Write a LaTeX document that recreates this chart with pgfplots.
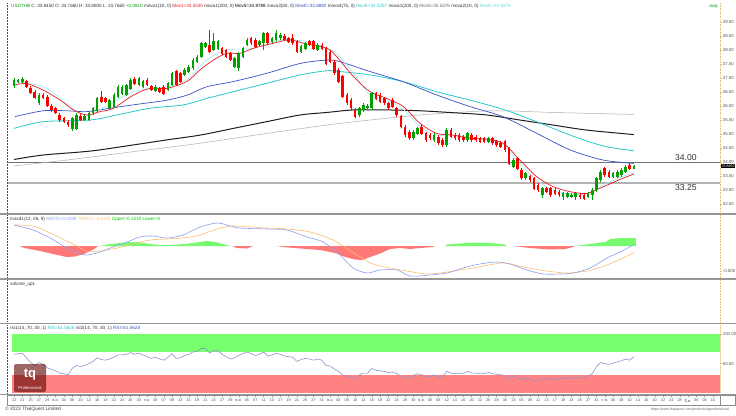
\documentclass[border=0pt]{standalone}
\usepackage{fontspec}
\setmainfont{Liberation Sans}
\newfontfamily\thai[Script=Thai]{Loma}
\usepackage{pgfplots}
\usepackage{pgfplotstable}
\pgfplotsset{compat=1.18}

\definecolor{cgreen}{RGB}{0,160,0}
\definecolor{cred}{RGB}{255,0,0}
\definecolor{mablue}{RGB}{60,80,200}
\definecolor{mateal}{RGB}{40,200,200}
\definecolor{macyan}{RGB}{150,235,250}
\definecolor{mared}{RGB}{230,30,30}
\definecolor{madark}{RGB}{30,30,30}
\definecolor{malight}{RGB}{175,175,175}
\definecolor{macdblue}{RGB}{140,160,240}
\definecolor{macdorange}{RGB}{255,190,110}
\definecolor{histg}{RGB}{120,250,110}
\definecolor{histr}{RGB}{255,120,120}
\definecolor{rsig}{RGB}{120,255,110}
\definecolor{rsir}{RGB}{255,130,130}
\definecolor{rsiline}{RGB}{140,150,200}
\definecolor{axyellow}{RGB}{225,195,120}
\definecolor{sepgray}{RGB}{150,150,150}
\definecolor{lblgray}{RGB}{90,90,90}

\newcommand{\fs}[1]{\fontsize{#1}{#1}\selectfont}

\pgfplotstableread{
i O H L C
0 36.71 36.99 36.66 36.93
1 36.86 36.98 36.82 36.93
2 36.87 37.02 36.83 36.95
3 36.87 36.92 36.64 36.69
4 36.63 36.70 36.42 36.48
5 36.51 36.58 36.24 36.31
6 36.10 36.45 36.05 36.39
7 36.39 36.46 36.26 36.31
8 36.33 36.38 35.95 36.00
9 36.00 36.06 35.80 35.86
10 35.92 35.98 35.70 35.76
11 35.68 35.74 35.44 35.50
12 35.56 35.62 35.38 35.44
13 35.44 35.50 35.26 35.32
14 35.17 35.62 35.12 35.56
15 35.20 35.74 35.16 35.68
16 35.64 35.70 35.46 35.52
17 35.50 35.68 35.45 35.62
18 35.50 35.80 35.45 35.74
19 35.74 35.98 35.68 35.92
20 35.83 36.33 35.78 36.27
21 36.30 36.52 36.10 36.15
22 36.27 36.32 36.10 36.15
23 35.95 36.26 35.90 36.21
24 35.98 36.45 35.93 36.39
25 36.33 36.74 36.28 36.69
26 36.45 36.74 36.40 36.69
27 36.39 36.80 36.34 36.75
28 36.63 37.00 36.58 36.93
29 36.95 37.02 36.76 36.81
30 36.75 37.05 36.70 36.99
31 36.69 36.92 36.64 36.87
32 36.93 36.99 36.70 36.75
33 36.71 36.76 36.52 36.57
34 36.55 36.74 36.50 36.69
35 36.63 36.68 36.46 36.51
36 36.69 36.74 36.38 36.43
37 36.57 36.86 36.52 36.81
38 36.75 37.23 36.70 37.17
39 37.23 37.30 36.70 36.75
40 37.17 37.22 36.82 36.87
41 37.11 37.34 37.06 37.29
42 37.23 37.46 37.18 37.40
43 37.35 37.70 37.30 37.64
44 37.58 37.82 37.53 37.76
45 37.76 38.30 37.71 38.24
46 38.12 38.30 38.07 38.24
47 38.18 38.71 37.88 37.94
48 38.00 38.60 37.95 38.30
49 38.06 38.36 38.01 38.30
50 38.06 38.12 37.83 37.88
51 38.00 38.05 37.71 37.76
52 37.88 37.93 37.59 37.64
53 37.40 37.76 37.35 37.70
54 37.35 37.94 37.25 37.88
55 37.76 38.12 37.71 38.06
56 38.18 38.42 38.13 38.36
57 38.42 38.48 38.19 38.24
58 38.36 38.42 38.07 38.12
59 38.18 38.36 38.13 38.30
60 38.24 38.66 38.00 38.60
61 38.60 38.66 38.19 38.24
62 38.30 38.48 38.25 38.42
63 38.36 38.72 38.31 38.60
64 38.42 38.62 38.37 38.54
65 38.48 38.56 38.31 38.36
66 38.42 38.48 38.25 38.30
67 38.42 38.58 38.19 38.24
68 38.30 38.36 37.89 37.94
69 37.94 38.18 37.89 38.12
70 38.06 38.30 38.01 38.24
71 38.30 38.36 38.13 38.18
72 38.30 38.36 38.01 38.06
73 38.00 38.24 37.95 38.18
74 38.18 38.24 38.01 38.06
75 38.06 38.12 37.46 37.52
76 37.94 38.00 37.53 37.58
77 37.58 37.64 37.11 37.17
78 37.29 37.35 36.81 36.87
79 37.05 37.11 36.27 36.33
80 36.39 36.45 36.04 36.10
81 36.21 36.27 35.86 35.92
82 35.86 35.92 35.56 35.62
83 35.68 35.98 35.60 35.92
84 35.86 36.10 35.80 36.04
85 35.92 36.06 35.86 36.00
86 35.92 36.51 35.86 36.45
87 36.45 36.51 36.21 36.27
88 36.39 36.45 36.09 36.15
89 36.27 36.33 36.04 36.10
90 36.10 36.16 35.86 35.92
91 36.21 36.27 35.92 35.98
92 35.92 35.98 35.62 35.68
93 35.62 35.68 35.20 35.26
94 35.26 35.32 34.90 34.96
95 35.08 35.14 34.79 34.85
96 34.85 35.14 34.79 35.08
97 35.02 35.26 34.96 35.20
98 35.26 35.32 34.96 35.02
99 35.02 35.08 34.73 34.79
100 34.96 35.02 34.79 34.85
101 34.79 35.02 34.73 34.96
102 34.90 34.96 34.61 34.67
103 34.79 34.85 34.55 34.61
104 34.61 35.20 34.55 35.14
105 35.14 35.22 34.84 34.90
106 34.96 35.02 34.79 34.85
107 34.96 35.02 34.73 34.79
108 34.90 34.96 34.73 34.79
109 34.79 35.08 34.73 35.02
110 34.96 35.02 34.73 34.79
111 34.90 34.96 34.73 34.79
112 34.85 34.91 34.67 34.73
113 34.85 34.91 34.67 34.73
114 34.73 34.91 34.67 34.85
115 34.85 34.91 34.61 34.67
116 34.73 34.79 34.55 34.61
117 34.69 34.75 34.49 34.55
118 34.73 34.79 34.37 34.43
119 34.49 34.55 33.89 33.95
120 33.83 34.13 33.77 34.07
121 34.13 34.19 33.71 33.77
122 33.71 33.77 33.36 33.42
123 33.42 33.65 33.36 33.59
124 33.48 33.54 33.30 33.36
125 33.42 33.48 33.00 33.06
126 33.18 33.24 32.94 33.00
127 32.82 33.12 32.70 33.06
128 33.06 33.12 32.88 32.94
129 33.06 33.12 32.76 32.82
130 33.00 33.06 32.82 32.88
131 32.94 33.00 32.76 32.82
132 32.76 32.94 32.64 32.88
133 32.76 32.94 32.70 32.88
134 32.76 32.88 32.70 32.82
135 32.76 32.94 32.64 32.88
136 32.82 32.88 32.68 32.74
137 32.82 32.88 32.64 32.70
138 32.76 32.94 32.70 32.88
139 32.82 33.06 32.64 33.00
140 33.00 33.48 32.94 33.42
141 33.36 33.71 33.30 33.65
142 33.77 33.83 33.48 33.54
143 33.65 33.71 33.42 33.48
144 33.48 33.65 33.42 33.59
145 33.48 33.71 33.42 33.65
146 33.54 33.77 33.48 33.71
147 33.65 33.89 33.60 33.83
148 33.89 33.95 33.71 33.77
149 33.766 33.88 33.766 33.845
}\ohlc

\pgfplotstableread{
i v
0 66
2 68
3 60
4 52
5 47
6 52
7 49
8 43
9 40
10 38
11 34
12 33
13 31
14 42
15 47
16 45
17 47
18 50
19 54
20 60
21 57
22 56
23 58
24 61
25 65
26 65
27 66
28 69
29 66
30 68
31 65
32 62
33 59
34 61
35 58
36 56
37 61
38 67
39 59
40 60
41 64
42 66
43 70
44 71
45 76
46 76
47 68
48 72
49 72
50 66
51 62
52 58
53 60
54 64
55 67
56 70
57 67
58 64
59 66
60 70
61 63
62 65
63 68
64 66
65 63
66 62
67 61
68 54
69 57
70 59
71 58
72 56
73 58
74 56
75 47
76 46
77 41
78 37
79 31
80 29
81 27
82 25
83 31
84 34
85 34
86 42
87 39
88 38
89 37
90 35
91 36
92 33
93 29
94 26
95 25
96 30
97 33
98 31
99 28
100 28
101 31
102 28
103 27
104 37
105 34
106 33
107 33
108 33
109 37
110 34
111 34
112 33
113 33
114 35
115 33
116 32
117 31
118 30
119 24
120 30
121 26
122 22
123 26
124 24
125 21
126 21
127 26
128 25
129 23
130 24
131 23
132 26
133 26
134 25
135 27
136 26
137 25
138 29
139 33
140 45
141 52
142 50
143 49
144 51
145 53
146 55
147 58
148 56
149 61.56
}\rsi

\newcommand{\candles}[2]{%
  \addplot[draw=none, mark=none, forget plot,
    error bars/.cd, y dir=both, y explicit, error mark=none,
    error bar style={draw=#2, solid, line width=0.55pt}]
    table[x=i, y expr={(#1) ? (\thisrow{H}+\thisrow{L})/2 : nan},
      y error expr={(\thisrow{H}-\thisrow{L})/2}]{\ohlc};
  \addplot[draw=none, mark=none, forget plot,
    error bars/.cd, y dir=both, y explicit, error mark=none,
    error bar style={draw=#2, solid, line width=2.6pt}]
    table[x=i, y expr={(#1) ? (\thisrow{O}+\thisrow{C})/2 : nan},
      y error expr={abs(\thisrow{C}-\thisrow{O})/2+0.006}]{\ohlc};
}

\pgfplotsset{
  panel/.style={
    scale only axis, width=713pt, anchor=north west,
    xmin=-1.68, xmax=169.7,
    axis line style={draw=none},
    xtick=\empty,
    ytick pos=right, yticklabel pos=right,
    tick align=outside, major tick length=1.6pt,
    tick style={draw=axyellow, line width=0.4pt},
    yticklabel style={font=\fs{4.4}, text=lblgray, inner sep=1pt},
    /pgf/number format/assume math mode=true,
    clip mode=individual,
  },
}

\begin{document}
\begin{tikzpicture}
\useasboundingbox (0,0) rectangle (736pt,-415pt);
\fill[white] (0,0) rectangle (736pt,-415pt);

% ---------------- main price panel ----------------
\begin{axis}[panel, at={(7pt,-3pt)}, height=210pt,
  ymin=32.179, ymax=39.679,
  ytick={32.5,33,...,39},
  yticklabel style={/pgf/number format/fixed, /pgf/number format/fixed zerofill, /pgf/number format/precision=2}]
  % support / resistance lines
  \addplot[black!55, line width=0.7pt, forget plot] coordinates {(-1.68,34.00) (169.7,34.00)};
  \addplot[black!30, line width=1.4pt, forget plot] coordinates {(-1.68,33.25) (169.7,33.25)};
  % moving averages
  \addplot[malight, line width=0.5pt, smooth] coordinates {(0,33.86)(12.7,34.07)(28.7,34.37)(44.7,34.67)(60.7,35.02)(75.2,35.32)(85.6,35.50)(97.6,35.68)(109.6,35.80)(117.6,35.83)(129.6,35.77)(149,35.70)};
  \addplot[madark, line width=1.0pt, smooth] coordinates {(0,34.09)(7,34.25)(18.3,34.39)(28.7,34.61)(36.7,34.79)(44.7,34.96)(52.7,35.20)(60.7,35.44)(68.8,35.68)(75.2,35.77)(81.6,35.86)(89.6,35.86)(97.6,35.83)(105.6,35.76)(113.6,35.68)(121.6,35.50)(129.6,35.32)(137.7,35.14)(149,34.98)};
  \addplot[mateal, line width=0.8pt, smooth] coordinates {(0,35.20)(7,35.44)(18.3,35.50)(24.7,35.68)(32.7,35.92)(40.7,36.04)(46.3,36.27)(52.7,36.51)(60.7,36.81)(68.8,37.11)(75.2,37.26)(78.4,37.23)(85.6,37.11)(93.6,36.87)(101.6,36.51)(109.6,36.21)(117.6,35.88)(125.6,35.44)(133.7,34.96)(141.7,34.57)(149,34.40)};
  \addplot[mablue, line width=0.7pt, smooth] coordinates {(0.2,35.62)(7,35.83)(12.7,35.83)(17.5,35.80)(23.1,35.92)(28.6,36.04)(36.8,36.21)(41.6,36.39)(46.4,36.69)(52.6,36.87)(60.8,37.17)(68.8,37.52)(75.2,37.64)(78.4,37.58)(85.6,37.23)(93.5,36.87)(101.7,36.39)(109.6,35.98)(117.5,35.62)(125.7,35.02)(133.7,34.43)(141.6,34.07)(149,33.95)};
  \addplot[macyan, line width=0.6pt, smooth] coordinates {(0,36.87)(7,36.69)(12.7,36.10)(15.1,35.80)(18.3,35.68)(20.7,35.86)(28.7,36.51)(36.7,36.69)(41.5,36.93)(46.3,37.64)(51.1,38.00)(57.5,38.06)(64.7,38.36)(70.4,38.30)(75.2,38.06)(77.6,37.88)(81.6,37.17)(85.6,36.39)(89.6,36.21)(93.6,35.88)(97.6,35.26)(101.6,34.96)(105.6,34.96)(113.6,34.81)(117.6,34.61)(121.6,33.95)(125.6,33.36)(129.6,33.00)(133.7,32.86)(137.7,32.86)(141.7,33.18)(145.7,33.45)(149,33.62)};
  \addplot[mared, line width=0.7pt, smooth] coordinates {(0,36.75)(3,36.80)(7,36.57)(11.1,36.21)(14.3,35.86)(17.5,35.68)(20.7,35.80)(23.9,35.92)(28.7,36.39)(32.7,36.63)(36.7,36.63)(41.5,36.87)(44.7,37.29)(47.9,37.64)(51.1,37.88)(54.3,37.88)(57.5,38.06)(62.3,38.24)(66.3,38.36)(70.4,38.21)(75.2,38.06)(77.6,37.76)(81.6,37.05)(85.6,36.51)(89.6,36.27)(93.6,35.98)(97.6,35.38)(101.6,35.02)(105.6,34.96)(109.6,34.85)(113.6,34.81)(117.6,34.67)(121.6,34.07)(125.6,33.48)(129.6,33.12)(133.7,32.94)(137.7,32.88)(141.7,33.12)(145.7,33.38)(149,33.57)};
  % candles
  \candles{\thisrow{C}>=\thisrow{O}}{cgreen}
  \candles{\thisrow{C}<\thisrow{O}}{cred}
  % labels
  \node[font=\fs{8.6}, text=black!80, anchor=south, inner sep=1pt] at (axis cs:161.5,34.00) {34.00};
  \node[font=\fs{8.6}, text=black!80, anchor=north, inner sep=1.5pt] at (axis cs:161.5,33.25) {33.25};
  \node[fill=black, text=white, font=\fs{3.6}, inner sep=0.7pt, anchor=west] at (axis cs:169.9,33.845) {33.8450};
  \node[font=\fs{4.2}, text=cgreen, anchor=east, inner sep=0] at (rel axis cs:0.9975,0.984) {daily};
\end{axis}

% ---------------- MACD panel ----------------
\begin{axis}[panel, at={(7pt,-215pt)}, height=63pt,
  ymin=-0.64, ymax=0.62, ytick={-0.5},
  yticklabel style={/pgf/number format/fixed, /pgf/number format/fixed zerofill, /pgf/number format/precision=3}]
  \addplot[fill=histr, draw=none] coordinates {(1.4,0)(2.5,-0.04)(6.3,-0.10)(9.9,-0.17)(12.7,-0.22)(14.7,-0.21)(17.1,-0.15)(19.5,-0.05)(20.2,0)} \closedcycle;
  \addplot[fill=histg, draw=none] coordinates {(20.7,0)(23.1,0.04)(25.5,0.06)(27.9,0.08)(30.3,0.07)(32.7,0.04)(35.1,0.02)(37.5,0.02)(41.1,0.04)(44.7,0.08)(46.4,0.10)(48.3,0.08)(50.7,0.03)(51.9,0)} \closedcycle;
  \addplot[fill=histr, draw=none] coordinates {(52.6,0)(53.5,-0.04)(56,-0.05)(57.5,0)} \closedcycle;
  \addplot[fill=histr, draw=none] coordinates {(63,0)(66,-0.03)(68.8,-0.05)(73.6,-0.08)(77.2,-0.14)(79.6,-0.22)(82,-0.27)(83.7,-0.28)(85.6,-0.22)(88,-0.15)(90.4,-0.06)(92.8,-0.04)(95.2,-0.06)(97.6,-0.04)(100.7,-0.02)(101,0)} \closedcycle;
  \addplot[fill=histg, draw=none] coordinates {(103.8,0)(104,0.03)(107.2,0.05)(110.8,0.07)(114.4,0.06)(118,0.03)(118.3,0)} \closedcycle;
  \addplot[fill=histr, draw=none] coordinates {(120,0)(124,-0.04)(128.8,-0.07)(132.5,-0.06)(134.4,-0.02)(134.8,0)} \closedcycle;
  \addplot[fill=histg, draw=none] coordinates {(134.9,0)(138.5,0.04)(142.1,0.08)(143.3,0.14)(145.7,0.16)(149.5,0.16)(149.5,0)} \closedcycle;
  \addplot[macdorange, line width=0.6pt, smooth] coordinates {(0,0.42)(4.6,0.40)(8.7,0.26)(12.7,0.10)(15.1,0.0)(17.5,-0.10)(20.7,-0.10)(24.8,-0.04)(28.6,0.04)(32.7,0.12)(36.8,0.14)(40.6,0.16)(44.7,0.22)(48.8,0.34)(52.6,0.40)(60.8,0.36)(65.6,0.34)(71.2,0.28)(76.7,0.12)(78.4,0.04)(83.2,-0.22)(86.3,-0.36)(90.4,-0.44)(94.5,-0.50)(99.3,-0.56)(104.1,-0.52)(110.3,-0.44)(117.5,-0.34)(122.4,-0.42)(128.1,-0.50)(132.9,-0.54)(137.7,-0.50)(142.5,-0.38)(146.4,-0.24)(149,-0.13)};
  \addplot[macdblue, line width=0.6pt, smooth] coordinates {(0,0.42)(4.6,0.32)(8.7,0.16)(12.7,-0.04)(15.1,-0.14)(17.5,-0.18)(20.7,-0.12)(23.8,-0.02)(27.2,0.08)(30.3,0.18)(33.4,0.20)(36.8,0.16)(40.6,0.22)(44.7,0.38)(48.8,0.46)(51.2,0.42)(54.3,0.36)(60.8,0.34)(65.6,0.32)(70.4,0.18)(74.3,0.08)(78.4,-0.18)(81.5,-0.44)(84.9,-0.54)(88,-0.48)(92.1,-0.48)(95.2,-0.60)(100,-0.58)(104.1,-0.54)(107.9,-0.44)(112,-0.36)(116.1,-0.32)(119.2,-0.36)(123.3,-0.48)(127.2,-0.56)(131.2,-0.56)(134.4,-0.54)(138.5,-0.44)(142.5,-0.24)(145.7,-0.12)(149,0.03)};
\end{axis}

% ---------------- volume panel ----------------
\begin{axis}[panel, at={(7pt,-280pt)}, height=42pt, ymin=0, ymax=1, ytick=\empty]
  \addplot[draw=none, forget plot] coordinates {(0,0.5)};
\end{axis}

% ---------------- RSI panel ----------------
\begin{axis}[panel, at={(7pt,-325pt)}, height=68pt,
  ymin=0, ymax=116, ytick={50,100},
  yticklabel style={/pgf/number format/fixed, /pgf/number format/fixed zerofill, /pgf/number format/precision=2}]
  \addplot[fill=rsig, draw=none] coordinates {(-0.48,70)(169.7,70)(169.7,100)(-0.48,100)} -- cycle;
  \addplot[fill=rsir, draw=none] coordinates {(-0.48,0)(169.7,0)(169.7,30)(-0.48,30)} -- cycle;
  \addplot[rsiline, line width=0.6pt] table[x=i, y=v] {\rsi};
\end{axis}

% ---------------- date strip ----------------
\begin{axis}[scale only axis, width=713pt, height=10pt, at={(7pt,-395pt)}, anchor=north west,
  xmin=-1.68, xmax=169.7, ymin=0, ymax=1, ytick=\empty,
  axis line style={draw=black!45, line width=0.4pt},
  xtick={0,2,...,168},
  xticklabels={'22,21,25,27,29,{\thai ส.ค.},04,08,10,12,16,18,22,24,26,30,{\thai ก.ย.},05,07,09,13,15,19,21,23,27,29,{\thai ต.ค.},05,07,11,13,17,19,21,25,27,31,{\thai พ.ย.},04,08,10,14,16,18,22,24,28,30,{\thai ธ.ค.},06,08,12,14,16,20,22,26,28,30,'23,05,09,11,13,17,19,23,25,27,31,{\thai ก.พ.},06,08,10,14,16,20,22,24,28,{\thai มี.ค.},06,08,10},
  xtick pos=upper, xticklabel pos=lower,
  tick align=inside, major tick length=1.5pt,
  tick style={draw=black!45, line width=0.3pt},
  xticklabel style={font=\fs{3.8}, text=black!70, anchor=center, yshift=4.6pt, inner sep=0pt}]
  \addplot[draw=none, forget plot] coordinates {(0,0.5)};
\end{axis}

% ---------------- frame decorations ----------------
\foreach \ya/\yb in {3/213, 215/278, 280/322, 325/393} {
  \draw[black!70, densely dotted, line width=0.5pt] (7pt,-\ya pt) -- (7pt,-\yb pt);
  \draw[axyellow, densely dotted, line width=0.6pt] (720pt,-\ya pt) -- (720pt,-\yb pt);
}
\draw[sepgray, line width=1.6pt] (0,-214pt) -- (736pt,-214pt);
\draw[sepgray, line width=1.6pt] (0,-279pt) -- (736pt,-279pt);
\draw[sepgray, line width=1.6pt] (0,-323.5pt) -- (736pt,-323.5pt);
\draw[sepgray, line width=0.8pt] (0,-394pt) -- (736pt,-394pt);
\draw[black!45, line width=0.4pt] (720pt,-395pt) rectangle (735.5pt,-405pt);

% ---------------- header texts ----------------
\node[anchor=west, font=\fs{4.6}, text=black!80, inner sep=0] at (11pt,-6.5pt)
 {\textcolor{cgreen}{USDTHB} C: 33.8450 O: 33.7660 H: 33.8800 L: 33.7660 \textcolor{cgreen}{+0.0810} mova1(10, 0) \textcolor{mared}{Mov1=33.5535} mova1(200, 0) \textcolor{black}{Mov5=34.8788} mova3(50, 0) \textcolor{mablue}{MovE=33.8892} mova4(75, 0) \textcolor{mateal}{MovE=34.3257} mova1(200, 0) \textcolor{black!60}{Mov5=35.5476} mova2(10, 0) \textcolor{mateal!70!white}{MovE=33.5878}};
\node[anchor=west, font=\fs{4.6}, text=black!80, inner sep=0] at (10pt,-219.5pt)
 {macd1(12, 26, 9) \textcolor{macdblue}{MACD=0.0289} \textcolor{macdorange}{TRIGG=-0.1330} \textcolor{green!80!black}{Upper=0.1519 Lower=0}};
\node[anchor=west, font=\fs{4.6}, text=black!80, inner sep=0] at (10pt,-284.5pt) {volume\_up1};
\node[anchor=west, font=\fs{4.6}, text=black!80, inner sep=0] at (10pt,-328.5pt)
 {rsi1(14, 70, 30, 1) \textcolor{mateal}{RSI=61.5628} rsi2(14, 70, 30, 1) \textcolor{mablue}{RSI=61.5628}};

% ---------------- logo ----------------
\fill[black!55!red!80!black, opacity=0.6, rounded corners=1.5pt] (14pt,-364pt) rectangle (46pt,-392pt);
\node[white, font=\bfseries\fs{13}, inner sep=0] at (30pt,-374.5pt) {tq};
\node[white, font=\fs{4.2}, inner sep=0] at (30pt,-387.5pt) {Professional};

% ---------------- footer ----------------
\node[anchor=west, font=\fs{4.8}, text=black!75, inner sep=0] at (5pt,-409.5pt) {© 2023 ThaiQuest Limited};
\node[anchor=east, font=\fs{3.5}, text=black!60, inner sep=0] at (729pt,-409.8pt) {https://www.thaiquest.com/products/tqprofessional};
\end{tikzpicture}
\end{document}
